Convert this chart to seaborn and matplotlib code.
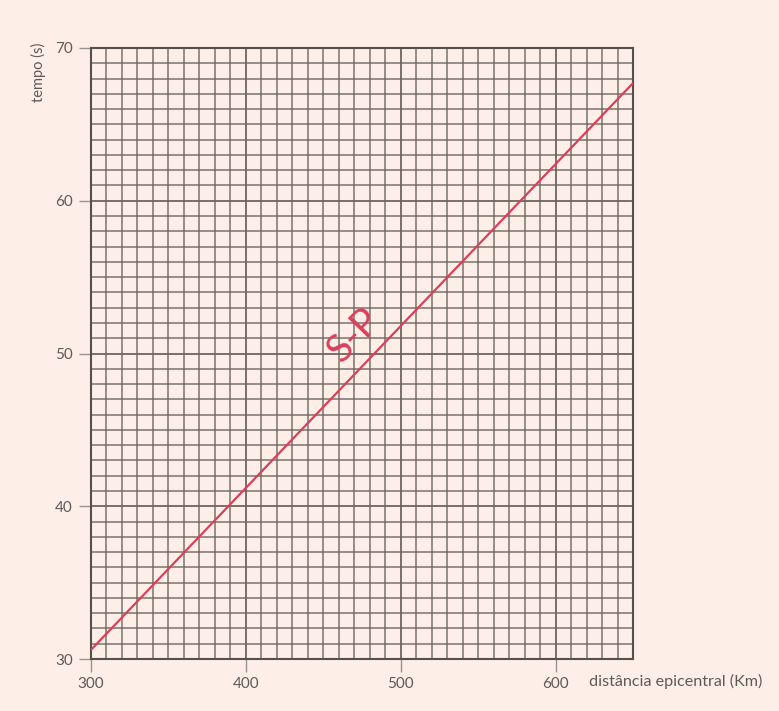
import numpy as np
import pandas as pd
import seaborn as sns
import matplotlib.pyplot as plt
from matplotlib.ticker import MultipleLocator

# S-P curve
distance_km = [300, 650]
time_s = [30.6, 67.7]
x_ticks = [300, 400, 500, 600]
y_ticks = [30, 40, 50, 60, 70]

bg = "#fdeee7"
text_color = "#5e5a58"
red = "#d8405a"
grid_color = "#6a625e"

sns.set_style("white")
plt.rcParams["font.family"] = ["Lato", "DejaVu Sans"]

fig = plt.figure(figsize=(7.79, 7.11), dpi=100, facecolor=bg)
ax = fig.add_axes([0.1168, 0.0731, 0.6958, 0.8594])
ax.set_facecolor(bg)

df = pd.DataFrame({"distance": distance_km, "time": time_s})
sns.lineplot(data=df, x="distance", y="time", ax=ax, color=red, linewidth=1.6, zorder=5)

ax.set_xlim(300, 650)
ax.set_ylim(30, 70)
ax.set_xticks(x_ticks)
ax.set_yticks(y_ticks)
ax.xaxis.set_minor_locator(MultipleLocator(10))
ax.yaxis.set_minor_locator(MultipleLocator(1))

# graph paper grid, all lines about the same weight
ax.grid(which="minor", color=grid_color, linewidth=1.3, alpha=0.75)
ax.grid(which="major", color=grid_color, linewidth=1.4, alpha=0.9)

for s in ax.spines.values():
    s.set_color("#55504c")
    s.set_linewidth(1.5)

ax.tick_params(axis="both", which="major", bottom=True, left=True, length=9, width=1.0,
               color="#9a9490", labelsize=11, labelcolor=text_color, pad=4)
ax.tick_params(axis="both", which="minor", length=0)

ax.set_xlabel("")
ax.set_ylabel("")
ax.text(0.919, -0.036, "distância epicentral (Km)", transform=ax.transAxes,
        ha="left", va="center", fontsize=11.6, color=text_color)
fig.text(0.049, 0.898, "tempo (s)", rotation=90, ha="center", va="center",
         fontsize=10.5, color=text_color)

ax.text(470, 51.2, "S-P", rotation=46, ha="center", va="center",
        fontsize=28, color=red, zorder=6)

fig.savefig("out.png", dpi=100, facecolor=bg)
